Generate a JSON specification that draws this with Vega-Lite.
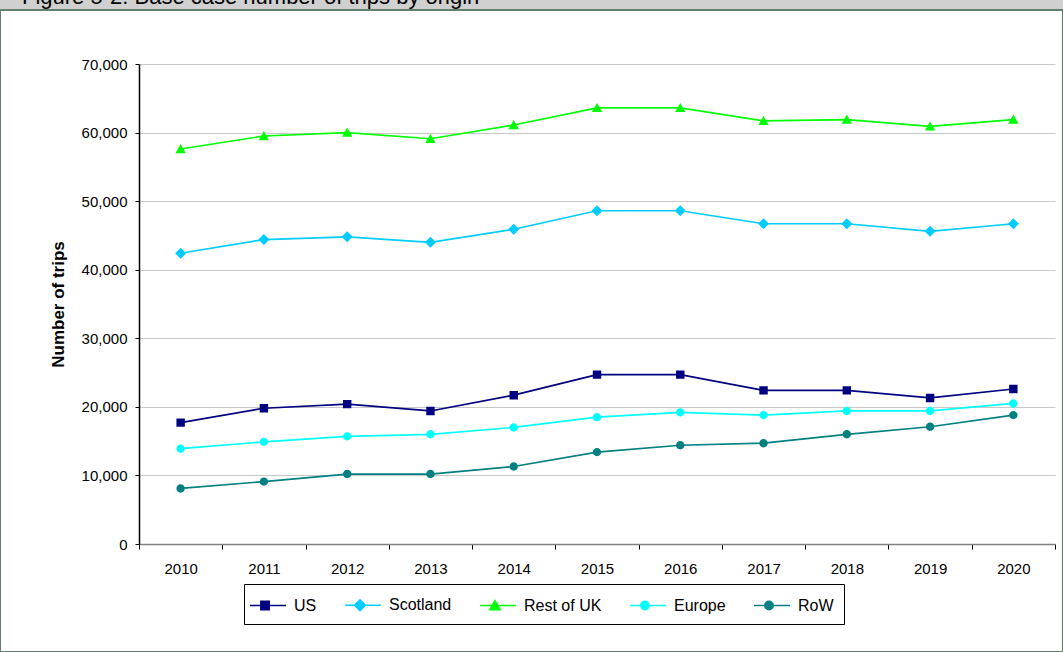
{
  "$schema": "https://vega.github.io/schema/vega-lite/v6.json",
  "width": 1063,
  "height": 642,
  "autosize": {"type": "none"},
  "padding": {"left": 0, "top": 10, "right": 0, "bottom": 0},
  "background": "#d0d0d0",
  "config": {
    "font": "Liberation Sans",
    "view": {"fill": "#ffffff", "stroke": "#62806f", "strokeWidth": 2}
  },
  "title": {
    "text": "Figure 5-2: Base case number of trips by origin",
    "anchor": "start",
    "frame": "group",
    "fontSize": 22,
    "fontWeight": "normal",
    "color": "#000000",
    "offset": 0,
    "baseline": "alphabetic",
    "dx": 22,
    "dy": 16
  },
  "data": {
    "values": [
      {"year": "2010", "series": "US", "trips": 17700},
      {"year": "2011", "series": "US", "trips": 19800},
      {"year": "2012", "series": "US", "trips": 20400},
      {"year": "2013", "series": "US", "trips": 19400},
      {"year": "2014", "series": "US", "trips": 21700},
      {"year": "2015", "series": "US", "trips": 24700},
      {"year": "2016", "series": "US", "trips": 24700},
      {"year": "2017", "series": "US", "trips": 22400},
      {"year": "2018", "series": "US", "trips": 22400},
      {"year": "2019", "series": "US", "trips": 21300},
      {"year": "2020", "series": "US", "trips": 22600},
      {"year": "2010", "series": "Scotland", "trips": 42400},
      {"year": "2011", "series": "Scotland", "trips": 44400},
      {"year": "2012", "series": "Scotland", "trips": 44800},
      {"year": "2013", "series": "Scotland", "trips": 44000},
      {"year": "2014", "series": "Scotland", "trips": 45900},
      {"year": "2015", "series": "Scotland", "trips": 48600},
      {"year": "2016", "series": "Scotland", "trips": 48600},
      {"year": "2017", "series": "Scotland", "trips": 46700},
      {"year": "2018", "series": "Scotland", "trips": 46700},
      {"year": "2019", "series": "Scotland", "trips": 45600},
      {"year": "2020", "series": "Scotland", "trips": 46700},
      {"year": "2010", "series": "Rest of UK", "trips": 57600},
      {"year": "2011", "series": "Rest of UK", "trips": 59500},
      {"year": "2012", "series": "Rest of UK", "trips": 60000},
      {"year": "2013", "series": "Rest of UK", "trips": 59100},
      {"year": "2014", "series": "Rest of UK", "trips": 61100},
      {"year": "2015", "series": "Rest of UK", "trips": 63600},
      {"year": "2016", "series": "Rest of UK", "trips": 63600},
      {"year": "2017", "series": "Rest of UK", "trips": 61700},
      {"year": "2018", "series": "Rest of UK", "trips": 61900},
      {"year": "2019", "series": "Rest of UK", "trips": 60900},
      {"year": "2020", "series": "Rest of UK", "trips": 61900},
      {"year": "2010", "series": "Europe", "trips": 13900},
      {"year": "2011", "series": "Europe", "trips": 14900},
      {"year": "2012", "series": "Europe", "trips": 15700},
      {"year": "2013", "series": "Europe", "trips": 16000},
      {"year": "2014", "series": "Europe", "trips": 17000},
      {"year": "2015", "series": "Europe", "trips": 18500},
      {"year": "2016", "series": "Europe", "trips": 19200},
      {"year": "2017", "series": "Europe", "trips": 18800},
      {"year": "2018", "series": "Europe", "trips": 19400},
      {"year": "2019", "series": "Europe", "trips": 19400},
      {"year": "2020", "series": "Europe", "trips": 20500},
      {"year": "2010", "series": "RoW", "trips": 8100},
      {"year": "2011", "series": "RoW", "trips": 9100},
      {"year": "2012", "series": "RoW", "trips": 10200},
      {"year": "2013", "series": "RoW", "trips": 10200},
      {"year": "2014", "series": "RoW", "trips": 11300},
      {"year": "2015", "series": "RoW", "trips": 13400},
      {"year": "2016", "series": "RoW", "trips": 14400},
      {"year": "2017", "series": "RoW", "trips": 14700},
      {"year": "2018", "series": "RoW", "trips": 16000},
      {"year": "2019", "series": "RoW", "trips": 17100},
      {"year": "2020", "series": "RoW", "trips": 18800}
    ]
  },
  "encoding": {
    "x": {
      "field": "year",
      "type": "ordinal",
      "bandPosition": 0.5,
      "scale": {"type": "band", "paddingInner": 0, "paddingOuter": 0, "range": [139, 1055]},
      "axis": {
        "title": null,
        "labelAngle": 0,
        "tickBand": "extent",
        "offset": -108,
        "domainColor": "#808080",
        "domainWidth": 1.5,
        "tickColor": "#000000",
        "tickSize": 5,
        "labelPadding": 12,
        "labelFontSize": 15,
        "labelColor": "#000000",
        "grid": false
      }
    },
    "y": {
      "field": "trips",
      "type": "quantitative",
      "scale": {"domain": [0, 70000], "nice": false, "range": [534, 54]},
      "axis": {
        "title": "Number of trips",
        "titleFontSize": 17,
        "titleFontWeight": "bold",
        "titleColor": "#000000",
        "titlePadding": 14,
        "values": [0, 10000, 20000, 30000, 40000, 50000, 60000, 70000],
        "format": ",.0f",
        "offset": -139,
        "grid": true,
        "gridColor": "#c8c8c8",
        "domainColor": "#000000",
        "domainWidth": 1.5,
        "tickColor": "#000000",
        "tickSize": 4,
        "labelPadding": 8,
        "labelFontSize": 15,
        "labelColor": "#000000"
      }
    },
    "color": {
      "field": "series",
      "type": "nominal",
      "scale": {
        "domain": ["US", "Scotland", "Rest of UK", "Europe", "RoW"],
        "range": ["#000080", "#00ccff", "#00ff00", "#00ffff", "#008080"]
      },
      "legend": {
        "orient": "none",
        "legendX": 244,
        "legendY": 574,
        "direction": "horizontal",
        "columns": 5,
        "title": null,
        "strokeColor": "#000000",
        "fillColor": "#ffffff",
        "padding": 10,
        "symbolSize": 400,
        "symbolStrokeWidth": 1.5,
        "symbolOpacity": 1,
        "labelOffset": 18,
        "columnPadding": 25,
        "labelFontSize": 16,
        "labelColor": "#000000"
      }
    }
  },
  "layer": [
    {"mark": {"type": "line", "strokeWidth": 1.7}},
    {
      "mark": {"type": "point", "filled": true, "opacity": 1, "size": 400},
      "encoding": {
        "shape": {
          "field": "series",
          "type": "nominal",
          "scale": {
            "domain": ["US", "Scotland", "Rest of UK", "Europe", "RoW"],
            "range": [
              "M-1.5,0H2.1M-0.42,-0.42H0.42V0.42H-0.42Z",
              "M-1.5,0H2.1M0,-0.55L0.55,0L0,0.55L-0.55,0Z",
              "M-1.5,0H2.1M0,-0.5L0.52,0.42H-0.52Z",
              "M-1.5,0H2.1M0.42,0A0.42,0.42,0,1,1,-0.42,0A0.42,0.42,0,1,1,0.42,0Z",
              "M-1.5,0H2.1M0.42,0A0.42,0.42,0,1,1,-0.42,0A0.42,0.42,0,1,1,0.42,0Z"
            ]
          }
        }
      }
    }
  ]
}
